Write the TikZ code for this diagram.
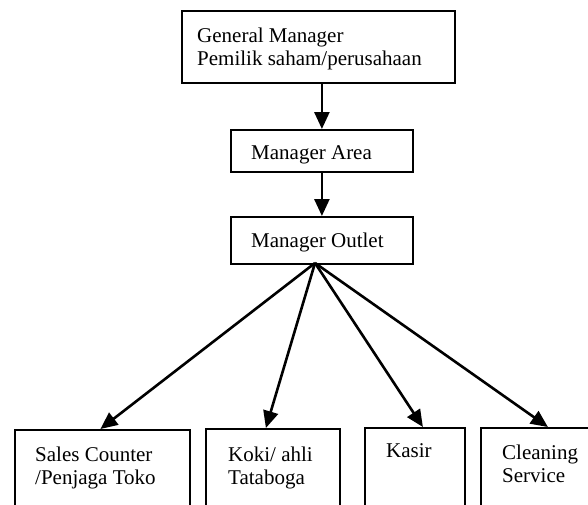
\documentclass[tikz,border=0pt]{standalone}
\usepackage{fontspec}
\setmainfont{Liberation Serif}
\usetikzlibrary{arrows.meta}
\begin{document}
\begin{tikzpicture}[x=1pt,y=-1pt,
  box/.style={draw=black,line width=1.8pt,inner sep=0pt,anchor=north west},
  lbl/.style={inner sep=0pt,anchor=base west,align=left,font=\fontsize{21}{23}\selectfont},
  conn/.style={line width=2.6pt,-{Triangle[length=17pt,width=15pt]}}]
\useasboundingbox (0,0) rectangle (588,504);
\clip (0,0) rectangle (588,504);
% boxes
\node[box,minimum width=273pt,minimum height=72pt] (gm) at (181,10) {};
\node[box,minimum width=182pt,minimum height=42pt] (area) at (230,129) {};
\node[box,minimum width=182pt,minimum height=47pt] (outlet) at (230,216) {};
\node[box,minimum width=175pt,minimum height=100pt] (b1) at (14,429) {};
\node[box,minimum width=134pt,minimum height=100pt] (b2) at (205,428) {};
\node[box,minimum width=100pt,minimum height=100pt] (b3) at (364,427) {};
\node[box,minimum width=130pt,minimum height=100pt] (b4) at (480,427) {};
% texts (multi-line nodes are placed by the baseline of their last line)
\node[lbl] (tgm) at (197,65) {General Manager\\Pemilik saham/perusahaan};
\node[lbl] (tarea) at (251,159) {Manager Area};
\node[lbl] (toutlet) at (251,247) {Manager Outlet};
\node[lbl] (tb1) at (35,484) {Sales Counter\\/Penjaga Toko};
\node[lbl] (tb2) at (228,484) {Koki/ ahli\\Tataboga};
\node[lbl] (tb3) at (386,457) {Kasir};
\node[lbl] (tb4) at (502,482) {Cleaning\\Service};
% connectors
\draw[conn] (gm.south -| area.north) -- (area.north);
\draw[conn] (area.south) -- (outlet.north);
\coordinate (o) at (315,263);
\draw[conn] (o) -- ([xshift=-2pt]b1.north);
\draw[conn] (o) -- ([xshift=-7pt]b2.north);
\draw[conn] (o) -- ([xshift=8pt]b3.north);
\draw[conn] (o) -- ([xshift=2pt]b4.north);
\end{tikzpicture}
\end{document}
